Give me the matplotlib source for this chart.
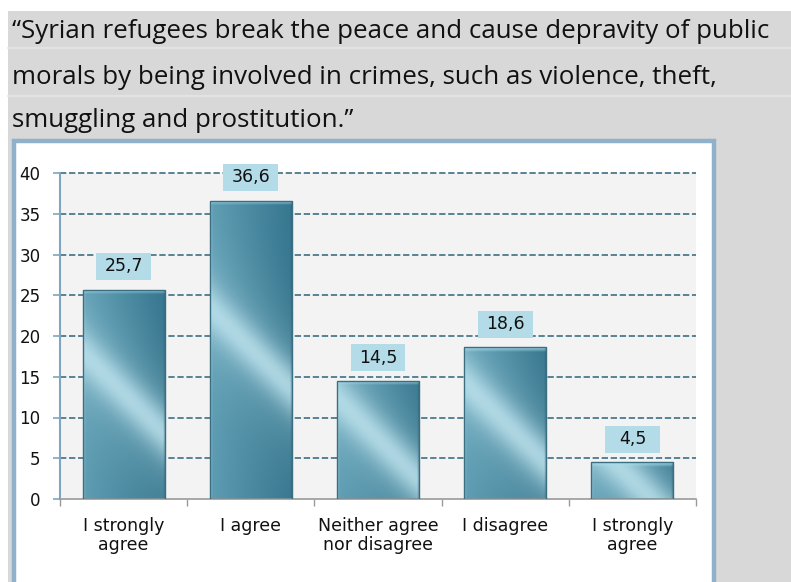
import matplotlib.pyplot as plt
import matplotlib.patches as mpatches
import matplotlib.colors as mcolors
import numpy as np

categories = ["I strongly\nagree", "I agree", "Neither agree\nnor disagree", "I disagree", "I strongly\nagree"]
values = [25.7, 36.6, 14.5, 18.6, 4.5]
value_labels = ["25,7", "36,6", "14,5", "18,6", "4,5"]
y_ticks = [0, 5, 10, 15, 20, 25, 30, 35, 40]
title_lines = [
    "\u201cSyrian refugees break the peace and cause depravity of public",
    "morals by being involved in crimes, such as violence, theft,",
    "smuggling and prostitution.\u201d",
]

W, H = 791, 582
fig = plt.figure(figsize=(W / 100, H / 100), dpi=100)
fig.patch.set_facecolor("white")


def px_rect(x0, y0, x1, y1, **kw):
    # rectangle given in image pixels (origin top-left)
    r = mpatches.Rectangle((x0 / W, 1 - y1 / H), (x1 - x0) / W, (y1 - y0) / H,
                           transform=fig.transFigure, **kw)
    fig.patches.append(r)
    return r


# page background
px_rect(8, 11, W + 5, H + 5, facecolor="#d8d8d8", edgecolor="none", zorder=0)
for yl in [48, 96]:
    fig.add_artist(plt.Line2D([8 / W, 1], [1 - yl / H] * 2, color="#e6e6e6",
                              lw=1.2, transform=fig.transFigure, zorder=1))

# title text
for line, yb in zip(title_lines, [38, 84, 127]):
    fig.text(12 / W, 1 - yb / H, line, family="Open Sans", fontsize=18.6,
             color="#111111", va="baseline", ha="left")

# chart frame
px_rect(14, 141, 714, H + 10, facecolor="white", edgecolor="#8fb1cc", lw=3.2, zorder=1)

ax = fig.add_axes([60 / W, 1 - 499 / H, (696 - 60) / W, (499 - 173) / H])
ax.set_zorder(2)
ax.set_facecolor("#f3f3f3")
ax.set_xlim(-0.5, len(values) - 0.5)
ax.set_ylim(0, 40)

x = np.arange(len(values))
bar_w = 0.645
bars = ax.bar(x, values, width=bar_w, facecolor="none", edgecolor="#3a6e80",
              linewidth=1.0, zorder=3)

dark = np.array(mcolors.to_rgb("#36768e"))
mid = np.array(mcolors.to_rgb("#5e9db3"))
light = np.array(mcolors.to_rgb("#bfe4ee"))
top_c = np.array(mcolors.to_rgb("#a8dcec"))

fig.canvas.draw()
to_px = ax.transData
for bar, v in zip(bars, values):
    x0, x1 = bar.get_x(), bar.get_x() + bar.get_width()
    (px0, py0), (px1, py1) = to_px.transform([(x0, 0), (x1, v)])
    bw, bh = int(round(px1 - px0)), max(int(round(py1 - py0)), 2)
    xx, yy = np.meshgrid(np.arange(bw) + 0.5, np.arange(bh) + 0.5)
    d = (xx - bw / 2) - (yy - bh / 2)
    stripe = np.exp(-(d / 26) ** 2) * 0.6 + np.exp(-(d / 70) ** 2) * 0.25
    stripe = np.clip(stripe, 0, 1)[..., None]
    side = (xx / bw)[..., None]
    base = mid * (1 - side) + dark * side
    img = base * (1 - stripe) + light * stripe
    top = np.clip(1 - yy / 5.0, 0, 1)[..., None]
    img = img * (1 - top) + top_c * top
    rim = np.clip(1 - (bw - xx) / 3.0, 0, 1)[..., None] * 0.5
    img = img * (1 - rim) + dark * 0.7 * rim
    lrim = np.clip(1 - xx / 3.0, 0, 1)[..., None] * 0.4
    img = img * (1 - lrim) + light * lrim
    im = ax.imshow(img, extent=[x0, x1, 0, v], aspect="auto", zorder=2,
                   interpolation="bilinear")
    im.set_clip_path(bar)

# value labels in light boxes
box_w = 0.43
for xi, v, lab in zip(x, values, value_labels):
    ax.add_patch(mpatches.Rectangle((xi - box_w / 2, v + 1.2), box_w, 3.3,
                                    facecolor="#b3dbe8", edgecolor="none",
                                    zorder=4, clip_on=False))
    ax.text(xi, v + 2.85, lab, ha="center", va="center", fontsize=12.5,
            color="#111111", zorder=5, clip_on=False)

ax.set_yticks(y_ticks)
ax.set_yticklabels([str(t) for t in y_ticks], fontsize=12, color="#111111")
ax.yaxis.grid(True, linestyle=(0, (3.5, 1.5)), color="#4b7a8b", lw=1.3)
for gl in ax.get_ygridlines():
    gl.set_clip_on(False)
ax.get_ygridlines()[0].set_visible(False)
ax.set_axisbelow(True)

ax.set_xticks(x)
ax.set_xticklabels(categories, fontsize=12.5, color="#111111", linespacing=1.1)
ax.set_xticks(np.arange(len(values) + 1) - 0.5, minor=True)
ax.tick_params(axis="x", which="major", length=0, pad=13)
ax.tick_params(axis="x", which="minor", length=5, color="#9a9a9a", width=1)
ax.tick_params(axis="y", length=5, color="#7fa6bf", width=1.2, pad=9)

for s in ["top", "right"]:
    ax.spines[s].set_visible(False)
ax.spines["left"].set_color("#7fa6bf")
ax.spines["left"].set_linewidth(1.5)
ax.spines["bottom"].set_color("#9a9a9a")
ax.spines["bottom"].set_linewidth(1.2)

fig.savefig("out.png", dpi=100, facecolor=fig.get_facecolor())
